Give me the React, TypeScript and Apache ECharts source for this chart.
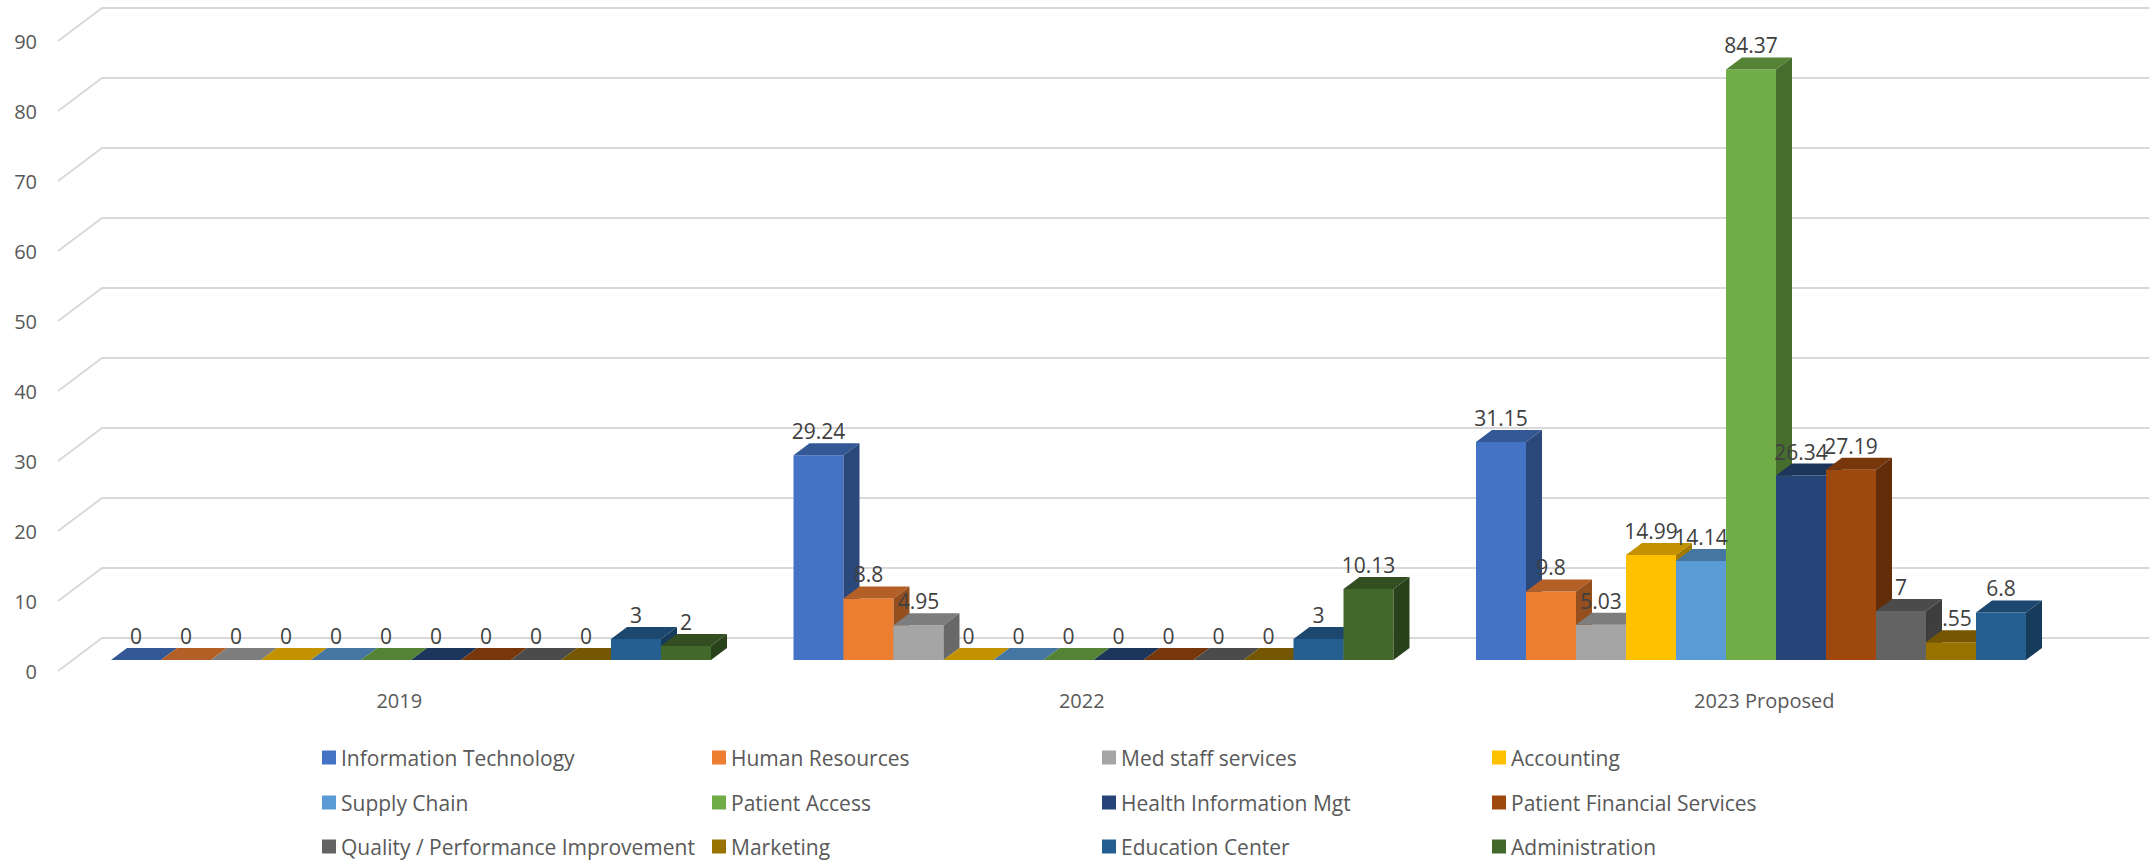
import React, { useEffect, useRef } from "react";
import * as echarts from "echarts";

// Categories along the floor of the 3D column chart
const categories = ["2019", "2022", "2023 Proposed"];

// Department series, in drawing order (left to right inside each year)
const seriesNames = [
  "Information Technology",
  "Human Resources",
  "Med staff services",
  "Accounting",
  "Supply Chain",
  "Patient Access",
  "Health Information Mgt",
  "Patient Financial Services",
  "Quality / Performance Improvement",
  "Marketing",
  "Education Center",
  "Administration",
];

const seriesColors = [
  "#4472C4",
  "#ED7D31",
  "#A5A5A5",
  "#FFC000",
  "#5B9BD5",
  "#70AD47",
  "#264478",
  "#9E480E",
  "#636363",
  "#997300",
  "#255E91",
  "#43682B",
];

// Values per department: [2019, 2022, 2023 Proposed]
const informationTechnology = [0, 29.24, 31.15];
const humanResources = [0, 8.8, 9.8];
const medStaffServices = [0, 4.95, 5.03];
const accounting = [0, 0, 14.99];
const supplyChain = [0, 0, 14.14];
const patientAccess = [0, 0, 84.37];
const healthInformationMgt = [0, 0, 26.34];
const patientFinancialServices = [0, 0, 27.19];
const qualityPerformanceImprovement = [0, 0, 7];
const marketing = [0, 0, 2.55];
const educationCenter = [3, 3, 6.8];
const administration: (number | null)[] = [2, 10.13, null];

const seriesValues = [
  informationTechnology,
  humanResources,
  medStaffServices,
  accounting,
  supplyChain,
  patientAccess,
  healthInformationMgt,
  patientFinancialServices,
  qualityPerformanceImprovement,
  marketing,
  educationCenter,
  administration,
];

// Value axis ticks (also used for the back-wall gridlines)
const yTicks = [0, 10, 20, 30, 40, 50, 60, 70, 80, 90];

const FONT = "'Open Sans', 'Noto Sans', sans-serif";

function shade(hex: string, f: number): string {
  const n = parseInt(hex.slice(1), 16);
  const r = Math.round(((n >> 16) & 255) * f);
  const g = Math.round(((n >> 8) & 255) * f);
  const b = Math.round((n & 255) * f);
  return `rgb(${r},${g},${b})`;
}

// Oblique projection offsets (pixels) for the pseudo-3D look
const WALL_DEPTH = { x: 44, y: -33 };
const BAR_PLANE = { x: 14.7, y: -11 };
const BAR_DEPTH = { x: 16, y: -12 };
const BAR_WIDTH_RATIO = 50 / 682.5;
const BAR_START_RATIO = 38.3 / 682.5;

// Legend grid: 4 columns x 3 rows
const LEGEND_LEFT = 322;
const LEGEND_COL_STEP = 390;
const LEGEND_ROW_CENTERS = [759, 804, 848];

function makeBarRenderer(seriesIndex: number, color: string) {
  const topColor = shade(color, 0.76);
  const sideColor = shade(color, 0.63);
  return (params: any, api: any) => {
    const ci = api.value(0);
    const v = api.value(1);
    if (v === null || v === undefined || isNaN(v)) return null;
    const base = api.coord([ci, 0]);
    const top = api.coord([ci, v]);
    const bandW = api.size([1, 0])[0];
    const barW = bandW * BAR_WIDTH_RATIO;
    const x0 = base[0] - bandW / 2 + bandW * BAR_START_RATIO + BAR_PLANE.x + seriesIndex * barW;
    const y0 = base[1] + BAR_PLANE.y;
    const yT = top[1] + BAR_PLANE.y;
    const dx = BAR_DEPTH.x;
    const dy = BAR_DEPTH.y;
    return {
      type: "group",
      children: [
        {
          type: "rect",
          shape: { x: x0, y: yT, width: barW, height: y0 - yT },
          style: { fill: color },
        },
        {
          type: "polygon",
          shape: {
            points: [
              [x0, yT],
              [x0 + dx, yT + dy],
              [x0 + barW + dx, yT + dy],
              [x0 + barW, yT],
            ],
          },
          style: { fill: topColor },
        },
        {
          type: "polygon",
          shape: {
            points: [
              [x0 + barW, yT],
              [x0 + barW + dx, yT + dy],
              [x0 + barW + dx, y0 + dy],
              [x0 + barW, y0],
            ],
          },
          style: { fill: sideColor },
        },
        {
          type: "text",
          z2: 50,
          x: x0 + barW / 2,
          y: yT + dy - 12,
          style: {
            text: String(v),
            fill: "#404040",
            fontSize: 21,
            fontFamily: FONT,
            align: "center",
            verticalAlign: "middle",
          },
        },
      ],
    };
  };
}

export default function App() {
  const ref = useRef<HTMLDivElement>(null);

  useEffect(() => {
    if (!ref.current) return;
    const chart = echarts.init(ref.current, null, { renderer: "svg" });

    const wallSeries = {
      type: "custom",
      name: "walls",
      silent: true,
      z: 1,
      encode: { x: 0, y: 1 },
      data: yTicks.map((t) => [0, t]),
      renderItem: (params: any, api: any) => {
        const cs = params.coordSys;
        const y = api.coord([0, api.value(1)])[1];
        return {
          type: "polyline",
          shape: {
            points: [
              [cs.x, y],
              [cs.x + WALL_DEPTH.x, y + WALL_DEPTH.y],
              [cs.x + cs.width + WALL_DEPTH.x, y + WALL_DEPTH.y],
            ],
          },
          style: { stroke: "#d9d9d9", lineWidth: 2, fill: null },
        };
      },
    };

    const barSeries = seriesNames.map((name, s) => ({
      type: "custom",
      name,
      z: 2,
      encode: { x: 0, y: 1 },
      itemStyle: { color: seriesColors[s] },
      data: categories.map((_, i) => [i, seriesValues[s][i] === null ? NaN : seriesValues[s][i]]),
      renderItem: makeBarRenderer(s, seriesColors[s]),
    }));

    // One legend per entry so the columns line up on a fixed grid
    const legends = seriesNames.map((name, s) => ({
      show: true,
      orient: "horizontal",
      left: LEGEND_LEFT + (s % 4) * LEGEND_COL_STEP,
      top: LEGEND_ROW_CENTERS[Math.floor(s / 4)] - 12,
      padding: 0,
      itemGap: 0,
      itemWidth: 14,
      itemHeight: 14,
      icon: "rect",
      selectedMode: false,
      textStyle: {
        color: "#595959",
        fontSize: 21,
        fontFamily: FONT,
      },
      data: [{ name, icon: "rect", itemStyle: { color: seriesColors[s] } }],
    }));

    chart.setOption({
      animation: false,
      backgroundColor: "#ffffff",
      grid: { left: 58, right: 45.5, top: 41, bottom: 191, containLabel: false },
      legend: legends,
      xAxis: {
        type: "category",
        data: categories,
        axisLine: { show: false },
        axisTick: { show: false },
        splitLine: { show: false },
        axisLabel: {
          color: "#595959",
          fontSize: 20,
          fontFamily: FONT,
          margin: 19,
        },
      },
      yAxis: {
        type: "value",
        min: 0,
        max: 90,
        interval: 10,
        axisLine: { show: false },
        axisTick: { show: false },
        splitLine: { show: false },
        axisLabel: {
          color: "#595959",
          fontSize: 20,
          fontFamily: FONT,
          margin: 21,
        },
      },
      series: [wallSeries, ...barSeries],
    });

    return () => chart.dispose();
  }, []);

  return (
    <div
      ref={ref}
      style={{ position: "fixed", left: 0, top: 0, width: 2151, height: 862, background: "#fff" }}
    />
  );
}
